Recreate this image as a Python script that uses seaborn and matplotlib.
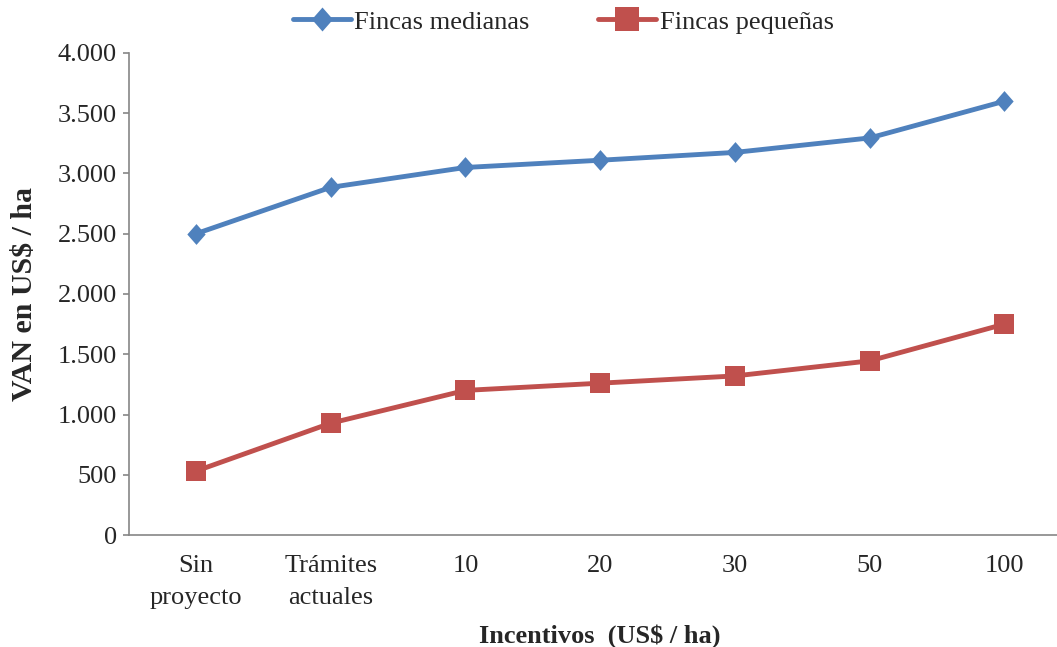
import numpy as np
import pandas as pd
import matplotlib
matplotlib.use("Agg")
import matplotlib.pyplot as plt
from matplotlib.ticker import FuncFormatter
import seaborn as sns

# ─────────────────────────────────────────
# DATA
# ─────────────────────────────────────────

incentivos = ["Sin\nproyecto", "Trámites\nactuales", "10", "20", "30", "50", "100"]
fincas_medianas = [2500, 2885, 3050, 3110, 3175, 3295, 3600]
fincas_pequenas = [530, 928, 1200, 1260, 1320, 1445, 1750]
y_ticks = [0, 500, 1000, 1500, 2000, 2500, 3000, 3500, 4000]

BLUE = "#4F81BD"
RED = "#C0504D"
GREY = "#868686"

sns.set_style("white")
plt.rcParams["font.family"] = ["Liberation Serif", "DejaVu Serif"]

df_med = pd.DataFrame({"incentivo": incentivos, "van": fincas_medianas})
df_peq = pd.DataFrame({"incentivo": incentivos, "van": fincas_pequenas})

diamond = np.array([(0, 1), (0.88, 0), (0, -1), (-0.88, 0), (0, 1)])

fig = plt.figure(figsize=(10.57, 6.47), dpi=100)
ax = fig.add_axes([0.1216, 0.1731, 0.8784, 0.745])

sns.lineplot(data=df_med, x="incentivo", y="van", ax=ax, color=BLUE,
             lw=3.5, marker=diamond, markersize=15, markeredgewidth=0,
             label="Fincas medianas", sort=False)
sns.lineplot(data=df_peq, x="incentivo", y="van", ax=ax, color=RED,
             lw=3.5, marker="s", markersize=15, markeredgewidth=0,
             label="Fincas pequeñas", sort=False)

ax.set_ylim(0, 4000)
ax.set_xlim(-0.5, 6.39)
ax.set_yticks(y_ticks)
ax.yaxis.set_major_formatter(FuncFormatter(lambda v, _: f"{int(v):,}".replace(",", ".")))
ax.set_xticks(range(len(incentivos)))
ax.set_xticklabels(incentivos)

for side in ["top", "right"]:
    ax.spines[side].set_visible(False)
for side in ["left", "bottom"]:
    ax.spines[side].set_color(GREY)
    ax.spines[side].set_linewidth(1.2)

ax.tick_params(axis="y", direction="out", length=4.5, width=1.2, color=GREY,
               pad=4, labelsize=19, left=True)
ax.tick_params(axis="x", length=0, pad=14.5, labelsize=19)

ax.set_xlabel("Incentivos  (US$ / ha)", fontsize=19, fontweight="bold")
ax.set_ylabel("VAN en US$ / ha", fontsize=21.5, fontweight="bold")
ax.xaxis.set_label_coords(0.508, -0.184)
ax.yaxis.set_label_coords(-0.097, 0.5)

handles, labels = ax.get_legend_handles_labels()
ax.legend_.remove()
fig.legend(handles, labels, loc="center", bbox_to_anchor=(0.533, 0.966),
           ncol=2, frameon=False, fontsize=19, handlelength=2.2,
           handletextpad=0.12, columnspacing=2.6, borderaxespad=0,
           markerscale=1.15)

fig.canvas.draw()
plt.setp(ax.get_xticklabels(), linespacing=1.6)

fig.savefig("out.png", dpi=100, facecolor="white")
plt.close(fig)
